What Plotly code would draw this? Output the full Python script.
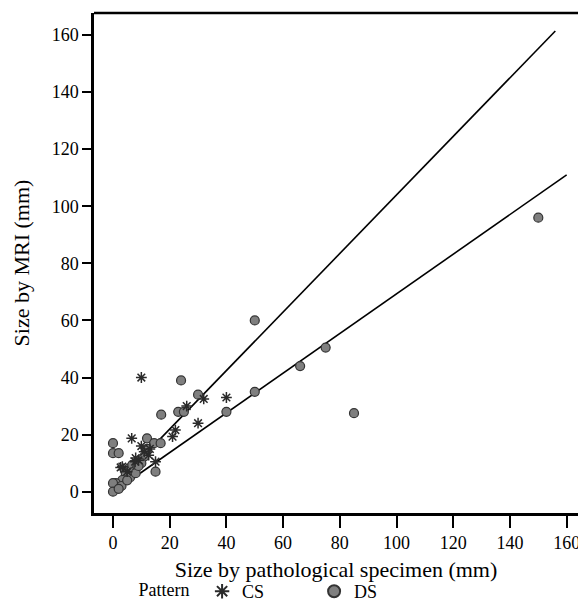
import plotly.graph_objects as go

# ---- data ----
cs_x = [10, 40, 32, 26, 30, 22, 21, 6.6, 10, 9, 7.8, 15, 2.7, 12.6, 8, 3.3, 5, 11, 13]
cs_y = [40, 33, 32.5, 30, 24, 21.6, 19.3, 18.7, 16, 11, 10.5, 10.5, 8.5, 12.8, 11.8, 8.8, 7, 14, 15]

ds_x = [150, 50, 75, 66, 85, 50, 40, 24, 30, 17, 23, 25, 12, 14.5, 16.8, 0, 0, 2,
        12, 11, 15, 5.6, 6.8, 4.5, 3.3, 1, 0, 0, 7.4, 8.6, 10, 6, 8, 3, 2, 5, 9]
ds_y = [96, 60, 50.5, 44, 27.5, 35, 28, 39, 34, 27, 28, 28, 18.7, 17, 17, 17, 13.5, 13.5,
        15, 12.3, 7, 8.2, 9.4, 6.4, 4.1, 3, 3, 0, 7, 8.8, 10, 5, 6.5, 2, 1, 4, 9]

cs_fit_x = [3, 156]
cs_fit_y = [4.5, 161.4]
ds_fit_x = [3, 160]
ds_fit_y = [1.9, 111]

x_ticks = [0, 20, 40, 60, 80, 100, 120, 140, 160]
y_ticks = [0, 20, 40, 60, 80, 100, 120, 140, 160]

FONT = "Times New Roman, Liberation Serif, serif"

fig = go.Figure()
fig.add_trace(go.Scatter(x=cs_fit_x, y=cs_fit_y, mode="lines",
                         line=dict(color="black", width=1.6), showlegend=False, hoverinfo="skip"))
fig.add_trace(go.Scatter(x=ds_fit_x, y=ds_fit_y, mode="lines",
                         line=dict(color="black", width=1.6), showlegend=False, hoverinfo="skip"))
fig.add_trace(go.Scatter(x=ds_x, y=ds_y, mode="markers", name="DS",
                         marker=dict(symbol="circle", size=9, color="#7f7f7f",
                                     line=dict(color="#333333", width=1.2))))
fig.add_trace(go.Scatter(x=cs_x, y=cs_y, mode="markers", name="CS",
                         marker=dict(symbol="asterisk", size=9, color="#2a2a2a",
                                     line=dict(color="#2a2a2a", width=1.5))))

fig.update_layout(
    width=578, height=610,
    margin=dict(l=94, r=0, t=13, b=97, autoexpand=False),
    paper_bgcolor="white", plot_bgcolor="white",
    font=dict(family=FONT, color="black", size=18),
    legend=dict(orientation="h", x=0.088, xanchor="left", y=-0.194, yanchor="bottom",
                title=dict(text="Pattern ", font=dict(size=18, family=FONT)),
                font=dict(size=18, family=FONT), traceorder="reversed",
                entrywidth=67, itemsizing="constant", tracegroupgap=0),
    xaxis=dict(range=[-6.7, 164.0], tickvals=x_ticks, ticks="outside", ticklen=12,
               tickwidth=1.5, tickcolor="black", showline=True, linewidth=2.5,
               linecolor="black", showgrid=False, zeroline=False, automargin=False,
               ticklabeloverflow="allow",
               tickfont=dict(size=18, family=FONT),
               title=dict(text="Size by pathological specimen (mm)",
                          font=dict(size=22, family=FONT), standoff=10)),
    yaxis=dict(range=[-7.46, 167.7], tickvals=y_ticks, ticks="outside", ticklen=9,
               tickwidth=1.5, tickcolor="black", showline=True, linewidth=2.5,
               linecolor="black", showgrid=False, zeroline=False, automargin=False,
               tickfont=dict(size=18, family=FONT),
               title=dict(text="Size by MRI (mm)", font=dict(size=22, family=FONT),
                          standoff=16)),
    shapes=[dict(type="line", xref="paper", yref="paper", x0=0, x1=1, y0=1, y1=1,
                 line=dict(color="black", width=2.5))],
)

fig.write_html("out.html",
               config={"displayModeBar": False},
               post_script="document.body.style.margin='0px';"
                           "document.body.style.overflow='hidden';")
